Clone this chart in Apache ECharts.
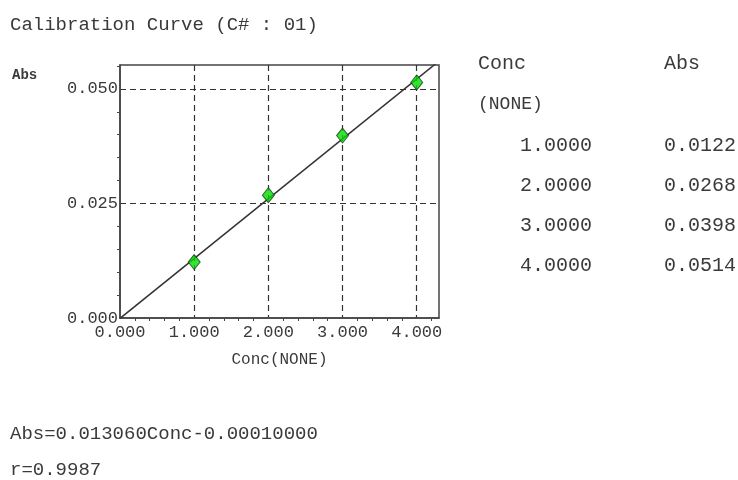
<!DOCTYPE html>
<html>
<head>
<meta charset="utf-8">
<script src="https://cdn.jsdelivr.net/npm/echarts@6/dist/echarts.min.js"></script>
<style>
  html, body { margin: 0; padding: 0; background: #fff; }
  #chart { width: 738px; height: 480px; }
</style>
</head>
<body>
<div id="chart"></div>
<script>
// Standards: concentration and measured absorbance
const concValues = [1.0, 2.0, 3.0, 4.0];
const absValues = [0.0122, 0.0268, 0.0398, 0.0514];

// Linear fit Abs = slope * Conc + intercept, and correlation
const fitSlope = 0.013060;
const fitIntercept = -0.00010000;
const fitR = 0.9987;

// Axis ranges and tick labels
const xRange = [0, 4.3];
const yRange = [0, 0.0552];
const xTickLabels = ['0.000', '1.000', '2.000', '3.000', '4.000'];
const yTickLabels = ['0.000', '0.025', '0.050'];

const FONT = '"Liberation Mono", "DejaVu Sans Mono", monospace';
const INK = '#3a3a3a';

const chart = echarts.init(document.getElementById('chart'), null, { renderer: 'canvas' });

const fitLine = [
  [xRange[0], fitSlope * xRange[0] + fitIntercept],
  [xRange[1], fitSlope * xRange[1] + fitIntercept]
];

const dashed = { color: '#333', width: 1.2, type: [6, 4] };

const tableTexts = [];
concValues.forEach((c, i) => {
  const y = 146 + i * 40;
  tableTexts.push({
    type: 'text', x: 592, y: y,
    style: { text: c.toFixed(4), font: '20px ' + FONT, fill: INK, textAlign: 'right', textVerticalAlign: 'middle' }
  });
  tableTexts.push({
    type: 'text', x: 664, y: y,
    style: { text: absValues[i].toFixed(4), font: '20px ' + FONT, fill: INK, textAlign: 'left', textVerticalAlign: 'middle' }
  });
});

const sign = fitIntercept < 0 ? '-' : '+';
const equation = 'Abs=' + fitSlope.toFixed(6) + 'Conc' + sign + Math.abs(fitIntercept).toFixed(8);

chart.setOption({
  animation: false,
  backgroundColor: '#fff',
  grid: {
    left: 120, top: 65, right: 299, bottom: 162,
    show: true, borderColor: '#444', borderWidth: 1.5, backgroundColor: 'transparent'
  },
  xAxis: {
    type: 'value', min: xRange[0], max: xRange[1], interval: 1,
    name: 'Conc(NONE)', nameLocation: 'middle', nameGap: 34,
    nameTextStyle: { fontFamily: FONT, fontSize: 16, color: INK },
    axisLine: { show: true, lineStyle: { color: '#444', width: 1.5 } },
    axisTick: { show: false },
    minorTick: { show: true, splitNumber: 5, length: 3, lineStyle: { color: '#444' } },
    axisLabel: {
      margin: 6, fontFamily: FONT, fontSize: 17, color: INK,
      showMaxLabel: false,
      formatter: v => { const i = Math.round(v); return Math.abs(v - i) < 1e-9 && xTickLabels[i] ? xTickLabels[i] : ''; }
    },
    splitLine: { show: true, showMinLine: false, showMaxLine: false, lineStyle: dashed }
  },
  yAxis: {
    type: 'value', min: yRange[0], max: yRange[1], interval: 0.025,
    axisLine: { show: true, lineStyle: { color: '#444', width: 1.5 } },
    axisTick: { show: false },
    minorTick: { show: true, splitNumber: 5, length: 3, lineStyle: { color: '#444' } },
    axisLabel: {
      margin: 2, fontFamily: FONT, fontSize: 17, color: INK,
      showMaxLabel: false,
      formatter: v => { const i = Math.round(v / 0.025); return Math.abs(v - i * 0.025) < 1e-9 && yTickLabels[i] ? yTickLabels[i] : ''; }
    },
    splitLine: { show: true, showMinLine: false, showMaxLine: false, lineStyle: dashed }
  },
  series: [
    {
      type: 'line', data: fitLine, clip: true, symbol: 'none',
      lineStyle: { color: '#333', width: 1.5 }, z: 2
    },
    {
      type: 'scatter',
      data: concValues.map((c, i) => [c, absValues[i]]),
      symbol: 'diamond', symbolSize: [12, 15],
      itemStyle: { color: '#00dd00', borderColor: '#1a3a1a', borderWidth: 1 }, z: 3
    }
  ],
  graphic: [
    { type: 'text', x: 10, y: 25, style: { text: 'Calibration Curve (C# : 01)', font: '19px ' + FONT, fill: INK, textVerticalAlign: 'middle' } },
    { type: 'text', x: 12, y: 75, style: { text: 'Abs', font: 'bold 14px ' + FONT, fill: INK, textVerticalAlign: 'middle' } },
    { type: 'text', x: 478, y: 64, style: { text: 'Conc', font: '20px ' + FONT, fill: INK, textVerticalAlign: 'middle' } },
    { type: 'text', x: 664, y: 64, style: { text: 'Abs', font: '20px ' + FONT, fill: INK, textVerticalAlign: 'middle' } },
    { type: 'text', x: 478, y: 104, style: { text: '(NONE)', font: '18px ' + FONT, fill: INK, textVerticalAlign: 'middle' } },
    ...tableTexts,
    { type: 'text', x: 10, y: 434, style: { text: equation, font: '19px ' + FONT, fill: INK, textVerticalAlign: 'middle' } },
    { type: 'text', x: 10, y: 470, style: { text: 'r=' + fitR.toFixed(4), font: '19px ' + FONT, fill: INK, textVerticalAlign: 'middle' } }
  ]
});
</script>
</body>
</html>
